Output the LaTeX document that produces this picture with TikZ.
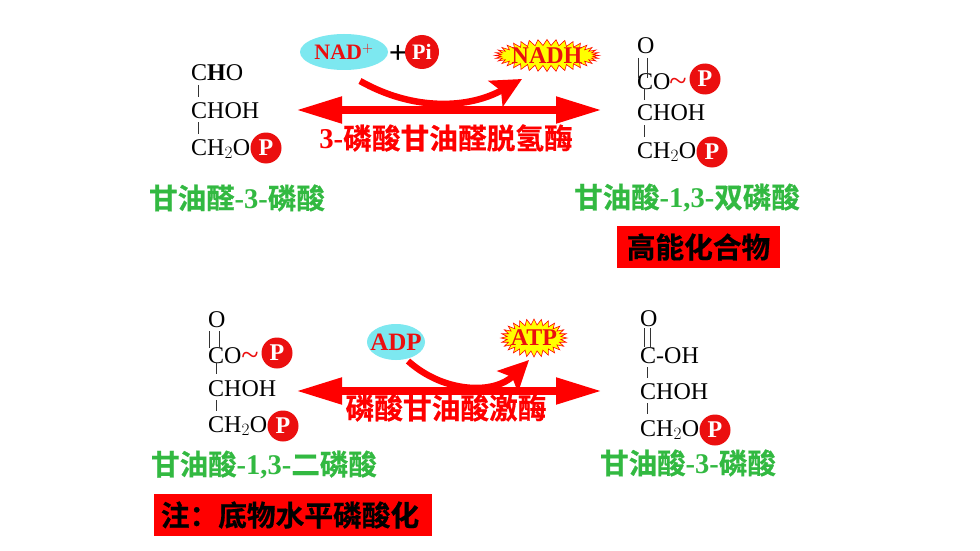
\documentclass[tikz,border=0pt]{standalone}
\usepackage{fontspec}
\setmainfont{Liberation Serif}
\newfontfamily\cjk{Noto Sans CJK SC}[BoldFont={Noto Sans CJK SC Bold},BoldFeatures={FakeBold=0.6}]
\usetikzlibrary{arrows.meta,shapes.geometric,shapes.symbols}
\definecolor{pred}{RGB}{235,15,15}
\definecolor{cyanel}{RGB}{125,232,240}
\definecolor{lgreen}{RGB}{50,185,65}
\definecolor{burstyel}{RGB}{255,255,0}
\tikzset{% change default arrow tips
    >={Triangle[length=46pt,width=25pt]},
    chem/.style={anchor=base west,inner sep=0pt,font=\fontsize{24}{24}\selectfont,text=black},
    bondline/.style={draw=black!80,line width=0.7pt},
    phos/.style={circle,fill=pred,inner sep=0pt,minimum size=31pt,text=white,font=\fontsize{24}{24}\selectfont\bfseries},
    tilde/.style={inner sep=0pt,text=pred,font=\fontsize{32}{32}\selectfont},
    green label/.style={inner sep=0pt,text=lgreen,font=\fontsize{28.5}{28.5}\selectfont\bfseries},
    enzyme/.style={inner sep=0pt,text=red,font=\fontsize{28.7}{28.7}\selectfont\bfseries},
    note box/.style={fill=red,inner sep=0pt,text=black,font=\fontsize{28.7}{28.7}\selectfont\bfseries\cjk},
    cofactor/.style={ellipse,fill=cyanel,inner sep=0pt,inner xsep=-6pt,text=pred,font=\fontsize{22}{22}\selectfont\bfseries},
    burst/.style={starburst,fill=burstyel,draw=red,line width=0.6pt,inner sep=0pt,inner xsep=-6pt,inner ysep=-2pt,random starburst=0,starburst points=36,
        starburst point height=6pt,text=pred,font=\fontsize{24}{24}\selectfont\bfseries},
    main arrow/.style={<->,draw=red,line width=8pt},
    side arrow/.style={-{Stealth[length=30pt,width=29pt,inset=6pt]},draw=red,line width=6.5pt}
}
\begin{document}
\begin{tikzpicture}[x=1pt,y=-1pt]
    \useasboundingbox (0,0) rectangle (980,551);
    \fill[white] (0,0) rectangle (980,551);

    % top left molecule
    \node[chem] (chotop) at (191,81) {C\textbf{H}O};
    \node[chem] (chohtl) at (191,118) {CHOH};
    \node[chem] (chtl) at (191,155) {CH$_2$O};
    \node[phos] (ptl) at (266,148) {P};
    \draw[bondline] ([shift={(7pt,-4pt)}]chotop.base west) -- ([shift={(7pt,21pt)}]chohtl.base west);
    \draw[bondline] ([shift={(7pt,-4pt)}]chohtl.base west) -- ([shift={(7pt,21pt)}]chtl.base west);
    \node[green label] (labtl) at (237,198) {\cjk 甘油醛\rmfamily -3-\cjk 磷酸};

    % top right molecule
    \node[chem] (otr) at (637,54) {O};
    \node[chem] (cotr) at (637,89) {CO};
    \node[tilde] (tildetr) at (678,85) {\textasciitilde};
    \node[phos] (ptr) at (705,79) {P};
    \node[chem] (chohtr) at (637,121) {CHOH};
    \node[chem] (chtr) at (637,158) {CH$_2$O};
    \node[phos] (ptrb) at (712,152) {P};
    \draw[bondline] ([shift={(1pt,-4pt)}]otr.base west) -- ([shift={(1pt,11pt)}]cotr.base west);
    \draw[bondline] ([shift={(10pt,-4pt)}]otr.base west) -- ([shift={(10pt,11pt)}]cotr.base west);
    \draw[bondline] ([shift={(7pt,1pt)}]cotr.base west) -- ([shift={(7pt,21pt)}]chohtr.base west);
    \draw[bondline] ([shift={(7pt,-4pt)}]chohtr.base west) -- ([shift={(7pt,21pt)}]chtr.base west);
    \node[green label] (labtr) at (687,198) {\cjk 甘油酸\rmfamily -1,3-\cjk 双磷酸};
    \node[note box,minimum width=163pt,minimum height=42pt] (hecbox) at (698.5,247) {高能化合物};

    % top reaction
    \coordinate (mainl) at (296,110);
    \coordinate (mainr) at (602,110);
    \draw[main arrow] (mainl) -- (mainr);
    \node[cofactor,minimum width=88pt,minimum height=36pt] (nad) at (344,52) {NAD$^{+}$};
    \node[inner sep=0pt,font=\fontsize{32}{32}\selectfont\bfseries] (plus) at (398,54) {+};
    \node[phos,minimum size=34pt,font=\fontsize{22}{22}\selectfont\bfseries] (pi) at (422,52) {Pi};
    \node[burst,minimum width=104pt,minimum height=32pt] (nadh) at (547,55.5) {NADH};
    \coordinate (curvea) at (360,81);
    \coordinate (curveb) at (522,79);
    \draw[side arrow] (curvea) .. controls (415,112) and (470,108) .. (curveb);
    \node[enzyme] (enza) at (446,138) {\rmfamily 3-\cjk 磷酸甘油醛脱氢酶};

    % bottom left molecule
    \node[chem] (obl) at (208,327) {O};
    \node[chem] (cobl) at (208,363) {CO};
    \node[tilde] (tildebl) at (250,359) {\textasciitilde};
    \node[phos] (pbl) at (277,353) {P};
    \node[chem] (chohbl) at (208,396) {CHOH};
    \node[chem] (chbl) at (208,432) {CH$_2$O};
    \node[phos] (pblb) at (283,426) {P};
    \draw[bondline] ([shift={(1pt,-4pt)}]obl.base west) -- ([shift={(1pt,15pt)}]cobl.base west);
    \draw[bondline] ([shift={(11pt,-4pt)}]obl.base west) -- ([shift={(11pt,15pt)}]cobl.base west);
    \draw[bondline] ([shift={(8pt,0pt)}]cobl.base west) -- ([shift={(8pt,22pt)}]chohbl.base west);
    \draw[bondline] ([shift={(8pt,-4pt)}]chohbl.base west) -- ([shift={(8pt,21pt)}]chbl.base west);
    \node[green label] (labbl) at (264,465) {\cjk 甘油酸\rmfamily -1,3-\cjk 二磷酸};
    \node[note box,minimum width=278pt,minimum height=42pt] (notebox) at (293,515) {注：底物水平磷酸化\hspace*{6pt}};

    % bottom right molecule
    \node[chem] (obr) at (640,326) {O};
    \node[chem] (cbr) at (640,363) {C-OH};
    \node[chem] (chohbr) at (640,399) {CHOH};
    \node[chem] (chbr) at (640,436) {CH$_2$O};
    \node[phos] (pbr) at (715,430) {P};
    \draw[bondline] ([shift={(4pt,-2pt)}]obr.base west) -- ([shift={(4pt,16pt)}]cbr.base west);
    \draw[bondline] ([shift={(10pt,-2pt)}]obr.base west) -- ([shift={(10pt,16pt)}]cbr.base west);
    \draw[bondline] ([shift={(7pt,-4pt)}]cbr.base west) -- ([shift={(7pt,21pt)}]chohbr.base west);
    \draw[bondline] ([shift={(7pt,-4pt)}]chohbr.base west) -- ([shift={(7pt,22pt)}]chbr.base west);
    \node[green label] (labbr) at (688,463) {\cjk 甘油酸\rmfamily -3-\cjk 磷酸};

    % bottom reaction
    \coordinate (mainbl) at (296,391);
    \coordinate (mainbr) at (602,391);
    \draw[main arrow] (mainbl) -- (mainbr);
    \node[cofactor,minimum width=58pt,minimum height=36pt,font=\fontsize{25}{25}\selectfont\bfseries] (adp) at (396,342) {ADP};
    \node[burst,minimum width=66pt,minimum height=38pt,starburst points=28] (atp) at (534,338) {ATP};
    \coordinate (curvec) at (408,361);
    \coordinate (curved) at (529,360);
    \draw[side arrow] (curvec) .. controls (445,394) and (495,394) .. (curved);
    \node[enzyme] (enzb) at (446,408) {\cjk 磷酸甘油酸激酶};
\end{tikzpicture}
\end{document}
